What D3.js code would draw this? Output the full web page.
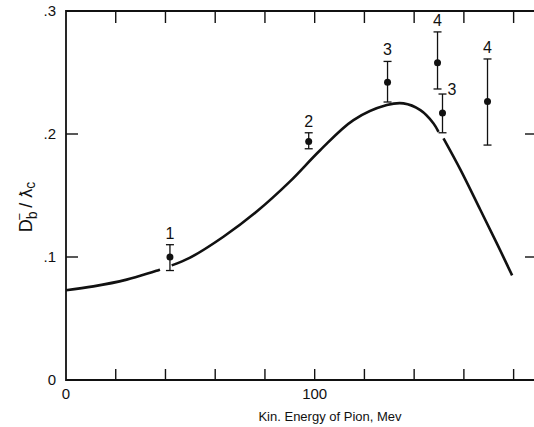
<!DOCTYPE html>
<html>
<head>
<meta charset="utf-8">
<script src="https://cdn.jsdelivr.net/npm/d3@7"></script>
<style>
body{margin:0;background:#fff;}
text{font-family:"Liberation Sans","DejaVu Sans",sans-serif;fill:#111;}
</style>
</head>
<body>
<svg id="chart" width="534" height="427"></svg>
<script>
// measured points, energy in Mev
var pointE=[41.8,97.6,129.3,149.4,151.4,169.5];
var pointV=[0.100,0.194,0.242,0.258,0.217,0.2265];
var errHi=[0.110,0.201,0.259,0.283,0.2325,0.261];
var errLo=[0.089,0.188,0.226,0.2366,0.201,0.191];
var pointLabel=["1","2","3","4","3","4"];

// theory curve, null = break in the drawn line
var curveE=[0,11,24.4,37.8,null,42.5,49.9,63.3,76.7,90.1,102.2,115.6,129.0,135.7,142.5,147.8,149.8,null,151.8,158.6,166.6,173.3,179.4];
var curveV=[0.073,0.0761,0.0816,0.0897,null,0.0932,0.0995,0.1165,0.137,0.1615,0.1868,0.2113,0.2235,0.2249,0.2194,0.2086,0.2017,null,0.1964,0.171,0.1384,0.1109,0.0851];

var xTicks=[0,20,40,60,80,100,120,140,160,180];
var xTickLabels={0:"0",100:"100"};
var yTicks=[0,0.1,0.2,0.3];
var yTickLabels=["0",".1",".2",".3"];

var svg=d3.select("#chart");
var pLeft=66,pRight=536,pTop=11,pBottom=380;

var x=d3.scaleLinear().domain([0,189]).range([pLeft,pRight]);
var y=d3.scaleLinear().domain([0,0.3]).range([pBottom,pTop]);

// frame
svg.append("path")
  .attr("d","M"+pRight+","+pTop+"H"+pLeft+"V"+pBottom+"H"+pRight)
  .attr("fill","none").attr("stroke","#111").attr("stroke-width",1.8);

// ticks
var xt=xTicks.slice(1);
svg.selectAll(".xtb").data(xt).enter().append("line")
  .attr("x1",function(d){return x(d);}).attr("x2",function(d){return x(d);})
  .attr("y1",pBottom).attr("y2",pBottom-11)
  .attr("stroke","#111").attr("stroke-width",1.4);
svg.selectAll(".xtt").data(xt).enter().append("line")
  .attr("x1",function(d){return x(d);}).attr("x2",function(d){return x(d);})
  .attr("y1",pTop).attr("y2",pTop+12)
  .attr("stroke","#111").attr("stroke-width",1.4);
var yt=[0.1,0.2];
svg.selectAll(".ytl").data(yt).enter().append("line")
  .attr("x1",pLeft).attr("x2",pLeft+12)
  .attr("y1",function(d){return y(d);}).attr("y2",function(d){return y(d);})
  .attr("stroke","#111").attr("stroke-width",1.4);
svg.selectAll(".ytr").data(yt).enter().append("line")
  .attr("x1",525).attr("x2",pRight)
  .attr("y1",function(d){return y(d);}).attr("y2",function(d){return y(d);})
  .attr("stroke","#111").attr("stroke-width",1.4);

// tick labels
svg.selectAll(".yl").data(yTicks).enter().append("text")
  .attr("x",pLeft-10).attr("y",function(d){return y(d)+5;})
  .attr("text-anchor","end").style("font-size","15px")
  .text(function(d,i){return yTickLabels[i];});
svg.selectAll(".xl").data(xTicks.filter(function(d){return xTickLabels[d];})).enter().append("text")
  .attr("x",function(d){return x(d);}).attr("y",pBottom+19)
  .attr("text-anchor","middle").style("font-size","15px")
  .text(function(d){return xTickLabels[d];});

// axis titles
svg.append("text").attr("x",330).attr("y",421).attr("text-anchor","middle")
  .style("font-size","13px").text("Kin. Energy of Pion, Mev");
var yl=svg.append("text").attr("transform","translate(32,207) rotate(-90)")
  .attr("text-anchor","middle").style("font-size","18px");
yl.append("tspan").text("D");
yl.append("tspan").attr("dy",5).style("font-size","14px").text("b");
yl.append("tspan").attr("dx",-9).attr("dy",-13).style("font-size","13px").text("−");
yl.append("tspan").attr("dy",8).text(" / ƛ");
yl.append("tspan").attr("dy",3).style("font-size","14px").text("c");

// curve
var line=d3.line()
  .defined(function(d){return d[0]!==null;})
  .x(function(d){return x(d[0]);}).y(function(d){return y(d[1]);})
  .curve(d3.curveCatmullRom.alpha(0.5));
svg.append("path").datum(curveE.map(function(e,i){return [e,curveV[i]];}))
  .attr("d",line).attr("fill","none").attr("stroke","#111").attr("stroke-width",2.6);

// error bars
var pts=pointE.map(function(e,i){return {e:e,v:pointV[i],hi:errHi[i],lo:errLo[i],lab:pointLabel[i]};});
var g=svg.selectAll(".pt").data(pts).enter().append("g");
g.append("line").attr("x1",function(d){return x(d.e);}).attr("x2",function(d){return x(d.e);})
  .attr("y1",function(d){return y(d.hi);}).attr("y2",function(d){return y(d.lo);})
  .attr("stroke","#111").attr("stroke-width",1.3);
g.append("line").attr("x1",function(d){return x(d.e)-4;}).attr("x2",function(d){return x(d.e)+4;})
  .attr("y1",function(d){return y(d.hi);}).attr("y2",function(d){return y(d.hi);})
  .attr("stroke","#111").attr("stroke-width",1.3);
g.append("line").attr("x1",function(d){return x(d.e)-4;}).attr("x2",function(d){return x(d.e)+4;})
  .attr("y1",function(d){return y(d.lo);}).attr("y2",function(d){return y(d.lo);})
  .attr("stroke","#111").attr("stroke-width",1.3);
g.append("circle").attr("cx",function(d){return x(d.e);}).attr("cy",function(d){return y(d.v);})
  .attr("r",3.5).attr("fill","#111");
g.append("text")
  .attr("x",function(d,i){return x(d.e)+(i==4?5:0);})
  .attr("y",function(d,i){return y(d.hi)-(i==4?-1:6);})
  .attr("text-anchor",function(d,i){return i==4?"start":"middle";})
  .style("font-size","16px").text(function(d){return d.lab;});
</script>
</body>
</html>
